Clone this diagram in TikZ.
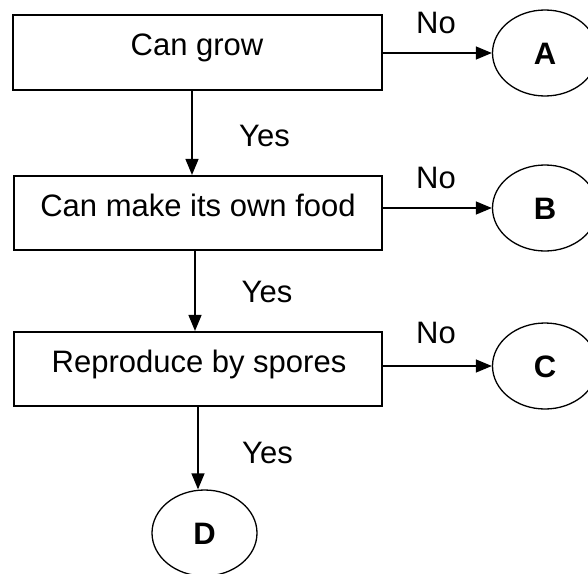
\documentclass[tikz,border=0pt]{standalone}
\usepackage{fontspec}
\setmainfont{Liberation Sans}
\usetikzlibrary{shapes.geometric,arrows.meta}
\begin{document}
\begin{tikzpicture}[x=1pt,y=-1pt,
  box/.style={draw,line width=1.6pt,rectangle,minimum width=368.5pt,minimum height=74.5pt,inner sep=0pt},
  circ/.style={draw,line width=1.3pt,ellipse,minimum width=105pt,minimum height=86pt,inner sep=0pt,
    font=\fontsize{31}{36}\selectfont\bfseries,text height=22.2pt,text depth=0pt},
  txt/.style={inner sep=0pt,font=\fontsize{31}{36}\selectfont,text height=22.2pt,text depth=0pt},
  arr/.style={line width=1.3pt,-{Triangle[length=16pt,width=13pt]}}]
\useasboundingbox (0,0) rectangle (588,573);
% boxes
\node[box] (b1) at (197.5,52.5) {};
\node[box] (b2) at (198,213) {};
\node[box] (b3) at (198,369) {};
\node[txt] (t1) at (197,44.5) {Can grow};
\node[txt] (t2) at (198,205.5) {Can make its own food};
\node[txt] (t3) at (199,361.5) {Reproduce by spores};
% circles
\node[circ] (cA) at (545,53) {A};
\node[circ] (cB) at (545,208) {B};
\node[circ] (cC) at (545,366) {C};
\node[circ] (cD) at (204.5,533) {D};
% horizontal arrows
\draw[arr] (cA.west -| b1.east) -- (cA.west);
\draw[arr] (cB.west -| b2.east) -- (cB.west);
\draw[arr] (cC.west -| b3.east) -- (cC.west);
% vertical arrows
\draw[arr] ([xshift=-5.5pt]b1.south) -- ([xshift=-5.5pt]b1.south |- b2.north);
\draw[arr] ([xshift=-3pt]b2.south) -- ([xshift=-3pt]b2.south |- b3.north);
\draw[arr] (b3.south) -- (b3.south |- cD.north);
% labels
\node[txt] (no1) at (436,22.5) {No};
\node[txt] (no2) at (436,177) {No};
\node[txt] (no3) at (436,332) {No};
\node[txt] (yes1) at (264.5,135) {Yes};
\node[txt] (yes2) at (267,291.5) {Yes};
\node[txt] (yes3) at (267.5,452) {Yes};
\end{tikzpicture}
\end{document}
